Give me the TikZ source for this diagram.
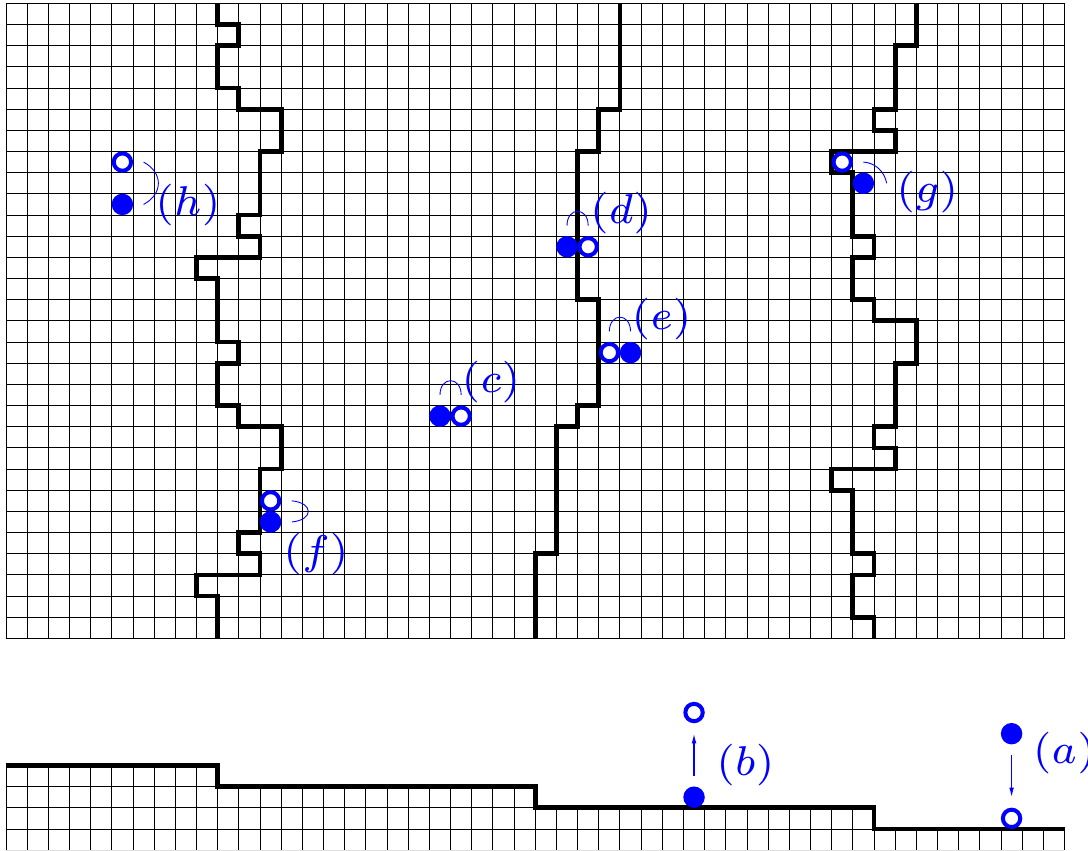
\RequirePackage{fix-cm}
\documentclass[tikz,border=0pt]{standalone}
\usetikzlibrary{arrows.meta}
\tikzset{
  gridline/.style={line width=0.6pt, black},
  wall/.style={line width=3.2pt, black, line join=miter},
  fullc/.style={circle, draw=blue, fill=blue, line width=2.7pt, minimum size=0.41cm, inner sep=0pt},
  openc/.style={circle, draw=blue, fill=white, line width=2.7pt, minimum size=0.41cm, inner sep=0pt},
  pairarc/.style={blue, line width=0.6pt},
  movearrow/.style={blue, line width=0.8pt, -{Latex[length=6.5pt,width=3.2pt]}, shorten <=0.2475cm, shorten >=0.2475cm},
  lab/.style={text=blue, anchor=west, inner sep=0pt, font=\fontsize{7}{8}\selectfont, scale=4}
}
\begin{document}
\begin{tikzpicture}[x=0.5cm, y=0.5cm]
\useasboundingbox (-0.283,-10) rectangle (51.11,30.157);
% top grid
\draw[gridline, step=0.5cm] (0,0) grid (50,30);
% bottom grid, only under the staircase
\begin{scope}
  \clip (0,-10) -- (0,-6) -- (10,-6) -- (10,-7) -- (25,-7) -- (25,-8) -- (41,-8) -- (41,-9) -- (50,-9) -- (50,-10) -- cycle;
  \draw[gridline, step=0.5cm] (0,-10) grid (50,-6);
\end{scope}
\draw[gridline] (0,-10) -- (0,-6);
\draw[gridline] (50,-10) -- (50,-9);
% interfaces in the top grid
\draw[wall] (10,30) -- (10,29) -- (11,29) -- (11,28) -- (10,28) -- (10,26) -- (11,26) -- (11,25) -- (13,25) -- (13,23) -- (12,23) -- (12,20) -- (11,20) -- (11,19) -- (12,19) -- (12,18) -- (9,18) -- (9,17) -- (10,17) -- (10,14) -- (11,14) -- (11,13) -- (10,13) -- (10,11) -- (11,11) -- (11,10) -- (13,10) -- (13,8) -- (12,8) -- (12,5) -- (11,5) -- (11,4) -- (12,4) -- (12,3) -- (9,3) -- (9,2) -- (10,2) -- (10,0);
\draw[wall] (29,30) -- (29,25) -- (28,25) -- (28,23) -- (27,23) -- (27,16) -- (28,16) -- (28,11) -- (27,11) -- (27,10) -- (26,10) -- (26,4) -- (25,4) -- (25,0);
\draw[wall] (43,30) -- (43,28) -- (42,28) -- (42,25) -- (41,25) -- (41,24) -- (42,24) -- (42,23) -- (39,23) -- (39,22) -- (40,22) -- (40,19) -- (41,19) -- (41,18) -- (40,18) -- (40,16) -- (41,16) -- (41,15) -- (43,15) -- (43,13) -- (42,13) -- (42,10) -- (41,10) -- (41,9) -- (42,9) -- (42,8) -- (39,8) -- (39,7) -- (40,7) -- (40,4) -- (41,4) -- (41,3) -- (40,3) -- (40,1) -- (41,1) -- (41,0);
% bottom staircase
\draw[wall] (0,-6) -- (10,-6) -- (10,-7) -- (25,-7) -- (25,-8) -- (41,-8) -- (41,-9) -- (50,-9);

% (h)
\node[openc] (ho) at (5.5,22.5) {};
\node[fullc] (hf) at (5.5,20.5) {};
\coordinate (ha1) at (6.5,22.5);
\coordinate (ha2) at (6.5,20.5);
\draw[pairarc] (ha1) .. controls +(0.93,-0.5) and +(0.93,0.5) .. (ha2);
\node[lab] (hl) at (7.0,20.45) {$(h)$};

% (f)
\node[openc] (fo) at (12.5,6.5) {};
\node[fullc] (ff) at (12.5,5.5) {};
\coordinate (fa1) at (13.5,6.5);
\coordinate (fa2) at (13.5,5.5);
\draw[pairarc] (fa1) .. controls +(1.04,-0.1) and +(1.04,0.1) .. (fa2);
\node[lab] (fl) at (13.05,4.0) {$(f)$};

% (c)
\node[fullc] (cf) at (20.5,10.5) {};
\node[openc] (co) at (21.5,10.5) {};
\coordinate (ca1) at (20.5,11.5);
\coordinate (ca2) at (21.5,11.5);
\draw[pairarc] (ca1) .. controls +(0,0.9) and +(0,0.9) .. (ca2);
\node[lab] (cl) at (21.47,12.09) {$(c)$};

% (d)
\node[fullc] (df) at (26.5,18.5) {};
\node[openc] (do) at (27.5,18.5) {};
\coordinate (da1) at (26.5,19.5);
\coordinate (da2) at (27.5,19.5);
\draw[pairarc] (da1) .. controls +(0,0.9) and +(0,0.9) .. (da2);
\node[lab] (dl) at (27.53,20.09) {$(d)$};

% (e)
\node[openc] (eo) at (28.5,13.5) {};
\node[fullc] (ef) at (29.5,13.5) {};
\coordinate (ea1) at (28.5,14.5);
\coordinate (ea2) at (29.5,14.5);
\draw[pairarc] (ea1) .. controls +(0,0.9) and +(0,0.9) .. (ea2);
\node[lab] (el) at (29.5,15.08) {$(e)$};

% (g)
\node[openc] (go) at (39.5,22.5) {};
\node[fullc] (gf) at (40.5,21.5) {};
\coordinate (ga1) at (40.5,22.5);
\coordinate (ga2) at (41.6,21.5);
\draw[pairarc] (ga1) .. controls +(0.56,-0.03) and +(-0.1,0.55) .. (ga2);
\node[lab] (gl) at (42.0,21.06) {$(g)$};

% (b)
\node[fullc] (bf) at (32.5,-7.5) {};
\node[openc] (bo) at (32.5,-3.5) {};
\draw[movearrow] (bf) -- (bo);
\node[lab] (bl) at (33.5,-5.96) {$(b)$};

% (a)
\node[fullc] (af) at (47.5,-4.5) {};
\node[openc] (ao) at (47.5,-8.5) {};
\draw[movearrow] (af) -- (ao);
\node[lab] (al) at (48.45,-5.42) {$(a)$};
\end{tikzpicture}
\end{document}
